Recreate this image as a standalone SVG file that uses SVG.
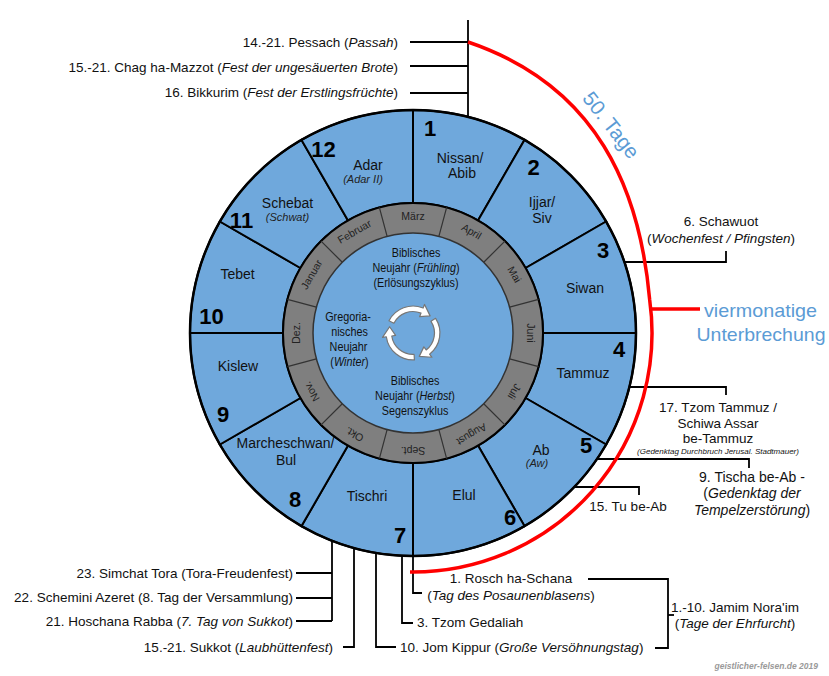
<svg xmlns="http://www.w3.org/2000/svg" width="829" height="676" viewBox="0 0 829 676">
<style>
text{font-family:"Liberation Sans",Arial,sans-serif;fill:#111}
.lbl{font-size:13.5px}
.mon{font-size:14px}
.sub{font-size:11px;font-style:italic;fill:#222}
.num{font-size:22px;font-weight:bold;fill:#000}
.ring{font-size:10.5px;fill:#222}
.inner{font-size:13.5px;fill:#111;text-anchor:middle}
.i{font-style:italic}
.blue{fill:#5b9bd5}
.seg{fill:#6fa8dc;stroke:#000;stroke-width:2}
.con{fill:none;stroke:#000;stroke-width:1.8}
.mid{text-anchor:middle}
.end{text-anchor:end}
</style>
<rect width="829" height="676" fill="#fff"/>

<!-- outer month sectors -->
<g id="month-1"><path class="seg" d="M413,203 L413,110 A223,223 0 0 1 524.5,139.88 L478,220.42 A130,130 0 0 0 413,203 Z"/>
<text class="num mid" x="430" y="136">1</text><text class="mon mid" x="460" y="163">Nissan/</text><text class="mon mid" x="462" y="178">Abib</text></g>
<g id="month-2"><path class="seg" d="M478,220.42 L524.5,139.88 A223,223 0 0 1 606.12,221.5 L525.58,268 A130,130 0 0 0 478,220.42 Z"/>
<text class="num mid" x="533.5" y="175">2</text><text class="mon mid" x="542" y="207">Ijjar/</text><text class="mon mid" x="542" y="223">Siv</text></g>
<g id="month-3"><path class="seg" d="M525.58,268 L606.12,221.5 A223,223 0 0 1 636,333 L543,333 A130,130 0 0 0 525.58,268 Z"/>
<text class="num mid" x="603" y="258">3</text><text class="mon mid" x="585" y="293">Siwan</text></g>
<g id="month-4"><path class="seg" d="M543,333 L636,333 A223,223 0 0 1 606.12,444.5 L525.58,398 A130,130 0 0 0 543,333 Z"/>
<text class="num mid" x="619" y="357">4</text><text class="mon mid" x="583" y="378">Tammuz</text></g>
<g id="month-5"><path class="seg" d="M525.58,398 L606.12,444.5 A223,223 0 0 1 524.5,526.12 L478,445.58 A130,130 0 0 0 525.58,398 Z"/>
<text class="num mid" x="586" y="453">5</text><text class="mon mid" x="541" y="455">Ab</text><text class="sub mid" x="537" y="467">(Aw)</text></g>
<g id="month-6"><path class="seg" d="M478,445.58 L524.5,526.12 A223,223 0 0 1 413,556 L413,463 A130,130 0 0 0 478,445.58 Z"/>
<text class="num mid" x="510" y="525">6</text><text class="mon mid" x="464" y="500">Elul</text></g>
<g id="month-7"><path class="seg" d="M413,463 L413,556 A223,223 0 0 1 301.5,526.12 L348,445.58 A130,130 0 0 0 413,463 Z"/>
<text class="num mid" x="400" y="543">7</text><text class="mon mid" x="367" y="501">Tischri</text></g>
<g id="month-8"><path class="seg" d="M348,445.58 L301.5,526.12 A223,223 0 0 1 219.88,444.5 L300.42,398 A130,130 0 0 0 348,445.58 Z"/>
<text class="num mid" x="295" y="507">8</text><text class="mon mid" x="285.5" y="448">Marcheschwan/</text><text class="mon mid" x="286" y="465">Bul</text></g>
<g id="month-9"><path class="seg" d="M300.42,398 L219.88,444.5 A223,223 0 0 1 190,333 L283,333 A130,130 0 0 0 300.42,398 Z"/>
<text class="num mid" x="223" y="422">9</text><text class="mon mid" x="238" y="371">Kislew</text></g>
<g id="month-10"><path class="seg" d="M283,333 L190,333 A223,223 0 0 1 219.88,221.5 L300.42,268 A130,130 0 0 0 283,333 Z"/>
<text class="num mid" x="211.5" y="324">10</text><text class="mon mid" x="237.5" y="279">Tebet</text></g>
<g id="month-11"><path class="seg" d="M300.42,268 L219.88,221.5 A223,223 0 0 1 301.5,139.88 L348,220.42 A130,130 0 0 0 300.42,268 Z"/>
<text class="num mid" x="241.5" y="228">11</text><text class="mon mid" x="287.5" y="208">Schebat</text><text class="sub mid" x="287.5" y="221">(Schwat)</text></g>
<g id="month-12"><path class="seg" d="M348,220.42 L301.5,139.88 A223,223 0 0 1 413,110 L413,203 A130,130 0 0 0 348,220.42 Z"/>
<text class="num mid" x="323.5" y="157">12</text><text class="mon mid" x="368" y="170">Adar</text><text class="sub mid" x="363" y="183">(Adar II)</text></g>
<circle cx="413" cy="333" r="223" fill="none" stroke="#000" stroke-width="2.5"/>

<!-- gregorian ring -->
<g id="gregorian-ring">
<circle cx="413" cy="333" r="130" fill="#7f7f7f" stroke="#000" stroke-width="2"/>
<g stroke="#333" stroke-width="1.2">
<line x1="413" y1="233" x2="413" y2="203" transform="rotate(15 413 333)"/>
<line x1="413" y1="233" x2="413" y2="203" transform="rotate(45 413 333)"/>
<line x1="413" y1="233" x2="413" y2="203" transform="rotate(75 413 333)"/>
<line x1="413" y1="233" x2="413" y2="203" transform="rotate(105 413 333)"/>
<line x1="413" y1="233" x2="413" y2="203" transform="rotate(135 413 333)"/>
<line x1="413" y1="233" x2="413" y2="203" transform="rotate(165 413 333)"/>
<line x1="413" y1="233" x2="413" y2="203" transform="rotate(195 413 333)"/>
<line x1="413" y1="233" x2="413" y2="203" transform="rotate(225 413 333)"/>
<line x1="413" y1="233" x2="413" y2="203" transform="rotate(255 413 333)"/>
<line x1="413" y1="233" x2="413" y2="203" transform="rotate(285 413 333)"/>
<line x1="413" y1="233" x2="413" y2="203" transform="rotate(315 413 333)"/>
<line x1="413" y1="233" x2="413" y2="203" transform="rotate(345 413 333)"/>
</g>
<text class="ring mid" x="413" y="219.5">März</text>
<text class="ring mid" x="413" y="219.5" transform="rotate(30 413 333)">April</text>
<text class="ring mid" x="413" y="219.5" transform="rotate(60 413 333)">Mai</text>
<text class="ring mid" x="413" y="219.5" transform="rotate(90 413 333)">Juni</text>
<text class="ring mid" x="413" y="219.5" transform="rotate(120 413 333)">Juli</text>
<text class="ring mid" x="413" y="219.5" transform="rotate(150 413 333)">August</text>
<text class="ring mid" x="413" y="219.5" transform="rotate(180 413 333)">Sept.</text>
<text class="ring mid" x="413" y="219.5" transform="rotate(210 413 333)">Okt.</text>
<text class="ring mid" x="413" y="219.5" transform="rotate(240 413 333)">Nov.</text>
<text class="ring mid" x="413" y="219.5" transform="rotate(270 413 333)">Dez.</text>
<text class="ring mid" x="413" y="219.5" transform="rotate(300 413 333)">Januar</text>
<text class="ring mid" x="413" y="219.5" transform="rotate(330 413 333)">Februar</text>
</g>

<!-- center -->
<g id="center">
<circle cx="413" cy="333" r="100" fill="#6fa8dc" stroke="#333" stroke-width="1.5"/>
<text class="inner" transform="translate(416 257) scale(0.8 1)">Biblisches</text>
<text class="inner" transform="translate(416 272) scale(0.8 1)">Neujahr (<tspan class="i">Frühling</tspan>)</text>
<text class="inner" transform="translate(416 287) scale(0.8 1)">(Erlösungszyklus)</text>
<text class="inner" transform="translate(348 321) scale(0.8 1)">Gregoria-</text>
<text class="inner" transform="translate(349.5 336) scale(0.8 1)">nisches</text>
<text class="inner" transform="translate(348.5 351) scale(0.8 1)">Neujahr</text>
<text class="inner" transform="translate(349.5 366) scale(0.8 1)">(<tspan class="i">Winter</tspan>)</text>
<text class="inner" transform="translate(415 385) scale(0.8 1)">Biblisches</text>
<text class="inner" transform="translate(415 400) scale(0.8 1)">Neujahr (<tspan class="i">Herbst</tspan>)</text>
<text class="inner" transform="translate(415 415) scale(0.8 1)">Segenszyklus</text>
<g transform="translate(413 333) rotate(-3) scale(1.1)" fill="#fff" stroke="#777" stroke-width="1.1" stroke-linejoin="round">
<path d="M-16.89,-9.75 L-21.22,-12.25 A24.5,24.5 0 0 1 10.35,-22.2 L11.83,-25.38 L16.35,-14.72 L6.76,-14.5 L8.24,-17.67 A19.5,19.5 0 0 0 -16.89,-9.75 Z"/>
<path d="M-16.89,-9.75 L-21.22,-12.25 A24.5,24.5 0 0 1 10.35,-22.2 L11.83,-25.38 L16.35,-14.72 L6.76,-14.5 L8.24,-17.67 A19.5,19.5 0 0 0 -16.89,-9.75 Z" transform="rotate(120)"/>
<path d="M-16.89,-9.75 L-21.22,-12.25 A24.5,24.5 0 0 1 10.35,-22.2 L11.83,-25.38 L16.35,-14.72 L6.76,-14.5 L8.24,-17.67 A19.5,19.5 0 0 0 -16.89,-9.75 Z" transform="rotate(240)"/>
</g>
</g>

<!-- connectors -->
<g id="connectors" class="con">
<line x1="468" y1="20" x2="468" y2="117"/>
<line x1="410" y1="42" x2="468" y2="42"/>
<line x1="410" y1="66" x2="468" y2="66"/>
<line x1="410" y1="93" x2="468" y2="93"/>
<polyline points="624,262 726,262 726,251"/>
<polyline points="629,387 726,387 726,395"/>
<polyline points="597,459 749,459 749,468"/>
<polyline points="574,487 639,487 639,495"/>
<line x1="332" y1="541" x2="332" y2="621"/>
<line x1="296" y1="573" x2="332" y2="573"/>
<line x1="296" y1="598" x2="332" y2="598"/>
<line x1="296" y1="621" x2="332" y2="621"/>
<polyline points="354,548 354,647 343,647"/>
<polyline points="376,553 376,647 396,647"/>
<polyline points="402,556 402,623 413,623"/>
<polyline points="413,556 413,593 422,593"/>
<polyline points="588,579 668,579 668,648 655,648"/>
<line x1="668" y1="615" x2="674" y2="615"/>
</g>

<!-- red 50 days / interruption -->
<g id="red-arc" fill="none" stroke="#ff0000" stroke-width="3.5">
<path d="M468,42 C598,86 640,190 649.7,300 A239,239 0 0 1 410,572"/>
<line x1="650" y1="309" x2="700" y2="309"/>
</g>

<!-- labels -->
<g id="label-pessach"><text class="lbl end" x="398" y="46.5">14.-21. Pessach (<tspan class="i">Passah</tspan>)</text></g>
<g id="label-mazzot"><text class="lbl end" x="398" y="71.5">15.-21. Chag ha-Mazzot (<tspan class="i">Fest der ungesäuerten Brote</tspan>)</text></g>
<g id="label-bikkurim"><text class="lbl end" x="398" y="97">16. Bikkurim (<tspan class="i">Fest der Erstlingsfrüchte</tspan>)</text></g>
<g id="label-schawuot"><text class="lbl mid" x="721" y="226">6. Schawuot</text><text class="lbl mid" x="721" y="243">(<tspan class="i">Wochenfest / Pfingsten</tspan>)</text></g>
<g id="label-tammuz"><text class="lbl mid" x="718" y="412">17. Tzom Tammuz /</text><text class="lbl mid" x="718" y="427.5">Schiwa Assar</text><text class="lbl mid" x="718" y="443">be-Tammuz</text><text class="mid i" style="font-size:8px" x="718" y="454">(Gedenktag Durchbruch Jerusal. Stadtmauer)</text></g>
<g id="label-tischa"><text class="lbl mid" x="752" y="482" style="font-size:14px">9. Tischa be-Ab -</text><text class="lbl mid" x="752" y="498" style="font-size:14px">(<tspan class="i">Gedenktag der</tspan></text><text class="lbl mid" x="752" y="515" style="font-size:14px"><tspan class="i">Tempelzerstörung</tspan>)</text></g>
<g id="label-tubeab"><text class="lbl mid" x="628" y="511">15. Tu be-Ab</text></g>
<g id="label-simchat"><text class="lbl end" x="293" y="578">23. Simchat Tora (Tora-Freudenfest)</text></g>
<g id="label-schemini"><text class="lbl end" x="293" y="602">22. Schemini Azeret (8. Tag der Versammlung)</text></g>
<g id="label-hoschana"><text class="lbl end" x="293" y="625.5">21. Hoschana Rabba (<tspan class="i">7. Tag von Sukkot</tspan>)</text></g>
<g id="label-sukkot"><text class="lbl end" x="333" y="652">15.-21. Sukkot (<tspan class="i">Laubhüttenfest</tspan>)</text></g>
<g id="label-rosch"><text class="lbl mid" x="511" y="583">1. Rosch ha-Schana</text><text class="lbl mid" x="511" y="600">(<tspan class="i">Tag des Posaunenblasens</tspan>)</text></g>
<g id="label-gedaliah"><text class="lbl" x="417" y="626.5">3. Tzom Gedaliah</text></g>
<g id="label-kippur"><text class="lbl" x="400" y="652">10. Jom Kippur (<tspan class="i">Große Versöhnungstag</tspan>)</text></g>
<g id="label-jamim"><text class="lbl mid" x="735" y="612">1.-10. Jamim Nora'im</text><text class="lbl mid" x="735" y="628">(<tspan class="i">Tage der Ehrfurcht</tspan>)</text></g>
<g id="label-50"><text class="blue mid" style="font-size:20.5px" x="0" y="7" transform="translate(611 125) rotate(52)">50. Tage</text></g>
<g id="label-unterbrechung"><text class="blue mid" style="font-size:19px" x="760.5" y="317" textLength="113" lengthAdjust="spacingAndGlyphs">viermonatige</text><text class="blue mid" style="font-size:19px" x="761" y="340.5" textLength="129" lengthAdjust="spacingAndGlyphs">Unterbrechung</text></g>
<text x="818" y="669" style="font-size:8.5px;font-weight:bold;font-style:italic;fill:#999;text-anchor:end">geistlicher-felsen.de 2019</text>
</svg>
